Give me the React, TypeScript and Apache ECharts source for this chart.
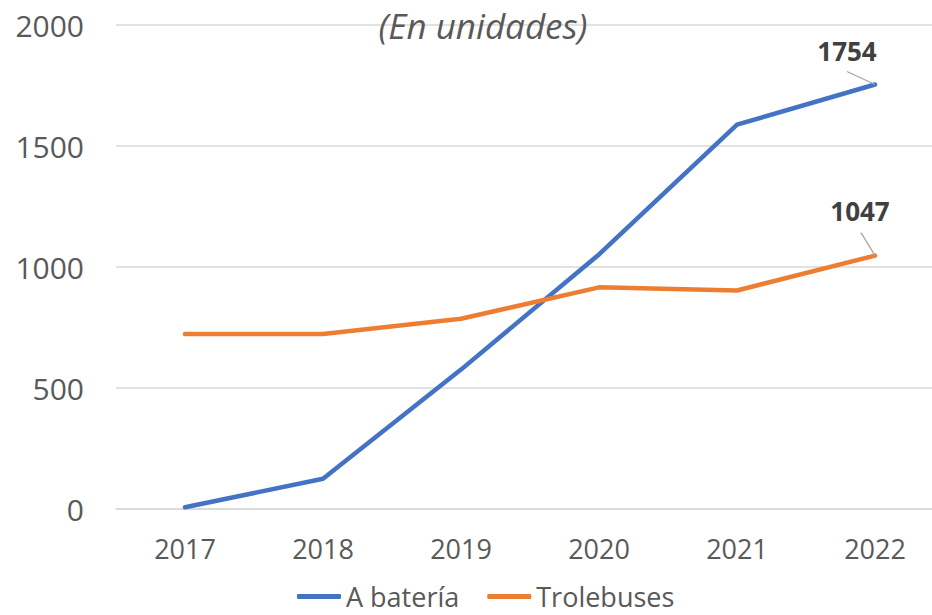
import React, { useEffect, useRef } from "react";
import * as echarts from "echarts";

const categories = ["2017", "2018", "2019", "2020", "2021", "2022"];
const bateria = [7, 125, 576, 1052, 1588, 1754];
const trolebuses = [723, 723, 786, 916, 903, 1047];
const yTicks = { min: 0, max: 2000, interval: 500 };
const title = "(En unidades)";
const seriesNames = ["A batería", "Trolebuses"];
const colors = ["#4472C4", "#ED7D31"];

const FONT = "'Open Sans', 'Noto Sans', sans-serif";

// label offsets (relative to last data point) and leader-line start offsets
const labelOffsets = [
  { dx: -28, dy: -16, lx: -28, ly: -13 },
  { dx: -15, dy: -27, lx: -14, ly: -23 },
];

export default function App() {
  const ref = useRef<HTMLDivElement>(null);
  useEffect(() => {
    if (!ref.current) return;
    const chart = echarts.init(ref.current, undefined, { renderer: "svg" });
    const last = categories.length - 1;
    const mkData = (arr: number[]) =>
      arr.map((v, i) =>
        i === last
          ? {
              value: v,
              label: {
                show: true,
                position: "top",
                distance: 5,
                fontFamily: FONT,
                fontWeight: "bold",
                fontSize: 26,
                color: "#404040",
              },
            }
          : v
      );
    const mkSeries = (idx: number, arr: number[]) => ({
      name: seriesNames[idx],
      type: "line",
      data: mkData(arr),
      symbol: "circle",
      symbolSize: 0,
      showSymbol: true,
      lineStyle: { color: colors[idx], width: 4.5, cap: "round" },
      itemStyle: { color: colors[idx] },
      labelLayout: (p: any) =>
        p.dataIndex === last ? { dx: labelOffsets[idx].dx, dy: labelOffsets[idx].dy } : {},
    });
    chart.setOption({
      animation: false,
      title: {
        text: title,
        left: 478,
        textAlign: "center",
        top: 3,
        textStyle: {
          fontFamily: FONT,
          fontStyle: "italic",
          fontWeight: "normal",
          fontSize: 35,
          color: "#595959",
        },
      },
      legend: {
        bottom: 0,
        left: 292,
        icon: "roundRect",
        itemWidth: 44,
        itemHeight: 5,
        itemGap: 28,
        textStyle: { fontFamily: FONT, fontSize: 27, color: "#595959" },
        data: seriesNames,
      },
      grid: { left: 116, width: 828, top: 25, height: 484, outerBoundsMode: "none", containLabel: false },
      xAxis: {
        type: "category",
        data: categories,
        boundaryGap: true,
        axisLine: { show: true, lineStyle: { color: "#d9d9d9", width: 1.5 } },
        axisTick: { show: false },
        axisLabel: { fontFamily: FONT, fontSize: 27, color: "#595959", margin: 26 },
      },
      yAxis: {
        type: "value",
        min: yTicks.min,
        max: yTicks.max,
        interval: yTicks.interval,
        axisLine: { show: false },
        axisTick: { show: false },
        splitLine: { lineStyle: { color: "#d9d9d9", width: 1.5 } },
        axisLabel: {
          fontFamily: FONT,
          fontSize: 30,
          color: "#595959",
          margin: 32,
          formatter: (v: number) => String(v),
        },
      },
      series: [mkSeries(0, bateria), mkSeries(1, trolebuses)],
    });

    // leader lines from label to last data point, computed through the chart's scales
    const leaders = [bateria, trolebuses].map((arr, idx) => {
      const p = chart.convertToPixel({ seriesIndex: idx }, [last, arr[last]]) as number[];
      const o = labelOffsets[idx];
      return {
        type: "line",
        shape: { x1: p[0] + o.lx, y1: p[1] + o.ly, x2: p[0], y2: p[1] },
        style: { stroke: "#a6a6a6", lineWidth: 1.3 },
        z: 10,
      };
    });
    chart.setOption({ graphic: leaders });
    return () => chart.dispose();
  }, []);
  return <div ref={ref} style={{ width: 932, height: 615, position: "absolute", left: 0, top: 0 }} />;
}
